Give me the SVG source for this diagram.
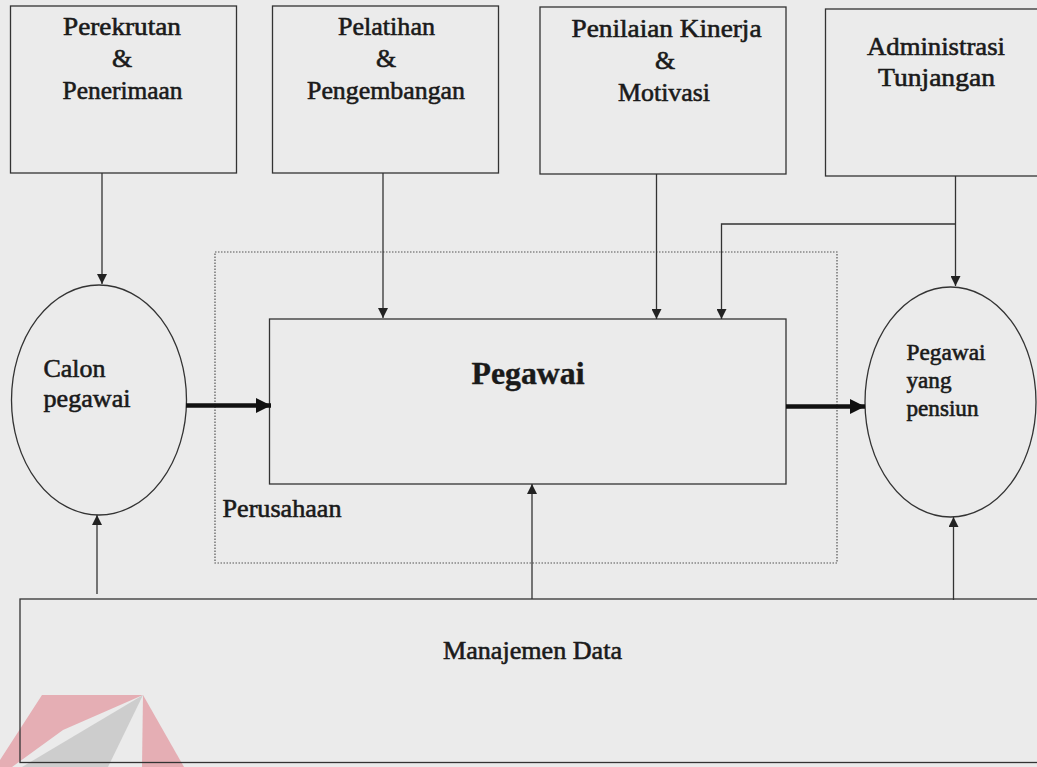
<svg xmlns="http://www.w3.org/2000/svg" width="1037" height="767" viewBox="0 0 1037 767">
  <defs>
    <style>
      .box { fill: none; stroke: #333; stroke-width: 1.3; }
      .frame { fill: none; stroke: #555; stroke-width: 1.2; stroke-dasharray: 1.5 1.5; }
      .wire { fill: none; stroke: #333; stroke-width: 1.3; }
      .flow { fill: none; stroke: #111; stroke-width: 4.5; }
      text { font-family: "Liberation Serif", "Times New Roman", serif; fill: #1a1a1a; stroke: #1a1a1a; stroke-width: 0.6; }
      .t24 { font-size: 26px; text-anchor: middle; }
      .lbl { font-size: 26px; }
      .small { font-size: 23px; }
      .big { font-size: 32px; font-weight: bold; text-anchor: middle; stroke-width: 0.4; }
    </style>
    <marker id="tip" viewBox="0 0 10 10" refX="10" refY="5" markerWidth="10" markerHeight="10" markerUnits="userSpaceOnUse" orient="auto">
      <path d="M0,0 L10,5 L0,10 Z" fill="#222"/>
    </marker>
    <marker id="bigtip" viewBox="0 0 10 10" refX="10" refY="5" markerWidth="18" markerHeight="15" markerUnits="userSpaceOnUse" orient="auto">
      <path d="M0,0 L10,5 L0,10 Z" fill="#111"/>
    </marker>
  </defs>

  <!-- paper -->
  <rect x="0" y="0" width="1037" height="767" fill="#ebebeb"/>

  <!-- faint logo mark, lower left -->
  <g id="logo" opacity="0.75">
    <polygon points="42,695 143,695 63,730 12,767 0,767 0,760" fill="#e39aa2"/>
    <polygon points="143,695 22,767 108,767" fill="#c4c4c4"/>
    <polygon points="143,695 184,767 142,767" fill="#e39aa2"/>
  </g>

  <!-- company boundary -->
  <g id="perusahaan">
    <rect class="frame" x="215" y="252" width="622" height="311"/>
    <text class="lbl" x="222.5" y="517" textLength="119" lengthAdjust="spacingAndGlyphs">Perusahaan</text>
  </g>

  <g id="perekrutan">
    <rect class="box" x="10.5" y="6" width="226" height="167"/>
    <text class="t24" x="122" y="35" textLength="118" lengthAdjust="spacingAndGlyphs">Perekrutan</text>
    <text class="t24" x="122" y="67">&amp;</text>
    <text class="t24" x="122.5" y="99" textLength="120" lengthAdjust="spacingAndGlyphs">Penerimaan</text>
  </g>

  <g id="pelatihan">
    <rect class="box" x="272.5" y="6" width="226" height="167"/>
    <text class="t24" x="386.5" y="35" textLength="97" lengthAdjust="spacingAndGlyphs">Pelatihan</text>
    <text class="t24" x="386" y="67">&amp;</text>
    <text class="t24" x="386" y="99" textLength="158" lengthAdjust="spacingAndGlyphs">Pengembangan</text>
  </g>

  <g id="penilaian">
    <rect class="box" x="540" y="7" width="246" height="167"/>
    <text class="t24" x="666.5" y="37" textLength="190" lengthAdjust="spacingAndGlyphs">Penilaian Kinerja</text>
    <text class="t24" x="665" y="69">&amp;</text>
    <text class="t24" x="664" y="101" textLength="92" lengthAdjust="spacingAndGlyphs">Motivasi</text>
  </g>

  <g id="administrasi">
    <rect class="box" x="825.5" y="9" width="215" height="167"/>
    <text class="t24" x="936" y="55" textLength="138" lengthAdjust="spacingAndGlyphs">Administrasi</text>
    <text class="t24" x="936.5" y="86" textLength="117" lengthAdjust="spacingAndGlyphs">Tunjangan</text>
  </g>

  <g id="calon-pegawai">
    <ellipse class="box" cx="99" cy="400" rx="87.5" ry="115"/>
    <text class="lbl" x="43.5" y="377" textLength="62" lengthAdjust="spacingAndGlyphs">Calon</text>
    <text class="lbl" x="43.5" y="407" textLength="87" lengthAdjust="spacingAndGlyphs">pegawai</text>
  </g>

  <g id="pegawai">
    <rect class="box" x="269.5" y="319" width="516.5" height="165"/>
    <text class="big" x="528" y="384" textLength="113" lengthAdjust="spacingAndGlyphs">Pegawai</text>
  </g>

  <g id="pegawai-pensiun">
    <ellipse class="box" cx="950.5" cy="402" rx="85.5" ry="115"/>
    <text class="small" x="906.5" y="360" textLength="79" lengthAdjust="spacingAndGlyphs">Pegawai</text>
    <text class="small" x="906.5" y="388" textLength="45" lengthAdjust="spacingAndGlyphs">yang</text>
    <text class="small" x="906.5" y="416" textLength="72" lengthAdjust="spacingAndGlyphs">pensiun</text>
  </g>

  <g id="manajemen-data">
    <rect class="box" x="20" y="599" width="1030" height="163.5"/>
    <text class="lbl" x="443" y="659" textLength="179" lengthAdjust="spacingAndGlyphs">Manajemen Data</text>
  </g>

  <g id="connectors">
    <!-- inputs from the top boxes -->
    <line class="wire" x1="102" y1="173" x2="102" y2="284" marker-end="url(#tip)"/>
    <line class="wire" x1="383" y1="173" x2="383" y2="318" marker-end="url(#tip)"/>
    <line class="wire" x1="656.5" y1="174" x2="656.5" y2="319" marker-end="url(#tip)"/>
    <line class="wire" x1="955.5" y1="176" x2="955.5" y2="286" marker-end="url(#tip)"/>
    <polyline class="wire" points="955.5,224 721.5,224 721.5,319" marker-end="url(#tip)"/>
    <!-- main flow -->
    <line class="flow" x1="186" y1="405.5" x2="271" y2="405.5" marker-end="url(#bigtip)"/>
    <line class="flow" x1="786" y1="406.5" x2="865" y2="406.5" marker-end="url(#bigtip)"/>
    <!-- data management feedback -->
    <line class="wire" x1="97" y1="594" x2="97" y2="515" marker-end="url(#tip)"/>
    <line class="wire" x1="532" y1="599" x2="532" y2="484" marker-end="url(#tip)"/>
    <line class="wire" x1="953.5" y1="600" x2="953.5" y2="517" marker-end="url(#tip)"/>
  </g>
</svg>
